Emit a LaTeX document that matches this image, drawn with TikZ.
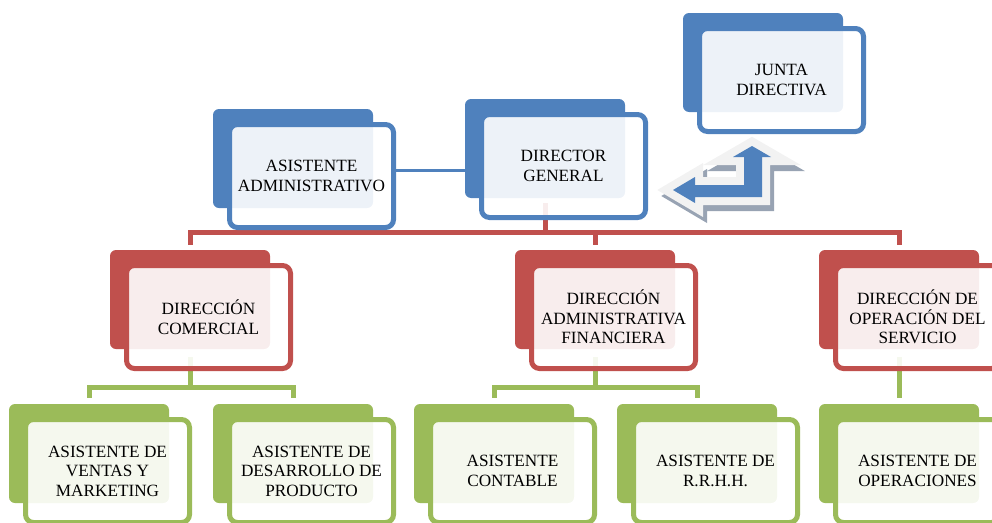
\documentclass[tikz,border=0pt]{standalone}
\usepackage{fontspec}
\setmainfont{Liberation Serif}
\usetikzlibrary{backgrounds}
\definecolor{cBlue}{HTML}{4F81BD}
\definecolor{cRed}{HTML}{C0504D}
\definecolor{cGreen}{HTML}{9BBB59}
\definecolor{cShadow}{HTML}{98A3B3}
\definecolor{cLight}{HTML}{F2F2F2}
\tikzset{
  backbox/.style={rectangle, rounded corners=6pt, minimum width=160pt, minimum height=99pt, inner sep=0pt, draw=none},
  frontbox/.style={rectangle, rounded corners=8pt, minimum width=164pt, minimum height=103pt, line width=5pt,
     fill=white, fill opacity=0.9, text opacity=1, draw opacity=1, align=center, inner sep=0pt, text=black,
     font=\fontsize{17.2}{19.5}\selectfont},
  redline/.style={draw=cRed, line width=5pt},
  greenline/.style={draw=cGreen, line width=5pt},
  blueline/.style={draw=cBlue, line width=3pt},
  uturn/.style={insert path={(752,146) -- (771,157) -- (762,157) -- (762,197) -- (695,197) -- (695,203) -- (673,190) -- (695,177) -- (695,185) -- (744,185) -- (744,157) -- (733,157) -- cycle}}
}
\newcommand\orgbox[5]{%
  \node[backbox, fill=#4] (#1B) at (#2+66,#3+36.5) {};
  \node[frontbox, draw=#4] (#1) at (#2+84.5,#3+54) {#5};
}
\begin{document}
\begin{tikzpicture}[x=1pt,y=-1pt]
\useasboundingbox (0,0) rectangle (992,522);
\clip (0,0) rectangle (992,522);

\orgbox{junta}{697}{26}{cBlue}{JUNTA\\DIRECTIVA}
\orgbox{dir}{479}{112}{cBlue}{DIRECTOR\\GENERAL}
\orgbox{aadm}{227}{122}{cBlue}{ASISTENTE\\ADMINISTRATIVO}
\orgbox{com}{124}{263}{cRed}{DIRECCIÓN\\COMERCIAL}
\orgbox{adm}{529}{263}{cRed}{DIRECCIÓN\\ADMINISTRATIVA\\FINANCIERA}
\orgbox{op}{833}{263}{cRed}{DIRECCIÓN DE\\OPERACIÓN DEL\\SERVICIO}
\orgbox{ven}{23}{417}{cGreen}{ASISTENTE DE\\VENTAS Y\\MARKETING}
\orgbox{des}{227}{417}{cGreen}{ASISTENTE DE\\DESARROLLO DE\\PRODUCTO}
\orgbox{cont}{428}{417}{cGreen}{ASISTENTE\\CONTABLE}
\orgbox{rrhh}{631}{417}{cGreen}{ASISTENTE DE\\R.R.H.H.}
\orgbox{ops}{833}{417}{cGreen}{ASISTENTE DE\\OPERACIONES}

% u-turn arrow icon
\begin{scope}[shift={(4,6)}]
\path[fill=cShadow, draw=cShadow, line width=16pt, line join=miter, uturn];
\end{scope}
\path[fill=cLight, draw=cLight, line width=16pt, line join=miter, uturn];
\path[fill=cBlue, uturn];

\begin{pgfonlayer}{background}
\coordinate (bbus) at (0,170);
\coordinate (rbus) at (0,232);
\coordinate (gbus) at (0,387);
\draw[blueline] (aadm.east |- bbus) -- (dir.west |- bbus);
\draw[redline] ([yshift=-5pt]dirB.south) -- (dirB.south |- rbus);
\draw[redline] ([yshift=5pt]comB.north) |- (rbus -| opB.north) -- ([yshift=5pt]opB.north);
\draw[redline] (admB.north |- rbus) -- ([yshift=5pt]admB.north);
\draw[greenline] ([yshift=-8pt]comB.south) -- (comB.south |- gbus);
\draw[greenline] ([yshift=6pt]venB.north) |- (gbus -| desB.north) -- ([yshift=6pt]desB.north);
\draw[greenline] ([yshift=-8pt]admB.south) -- (admB.south |- gbus);
\draw[greenline] ([yshift=6pt]contB.north) |- (gbus -| rrhhB.north) -- ([yshift=6pt]rrhhB.north);
\draw[greenline] ([yshift=-8pt]opB.south) -- ([yshift=6pt]opsB.north);
\end{pgfonlayer}
\end{tikzpicture}
\end{document}
